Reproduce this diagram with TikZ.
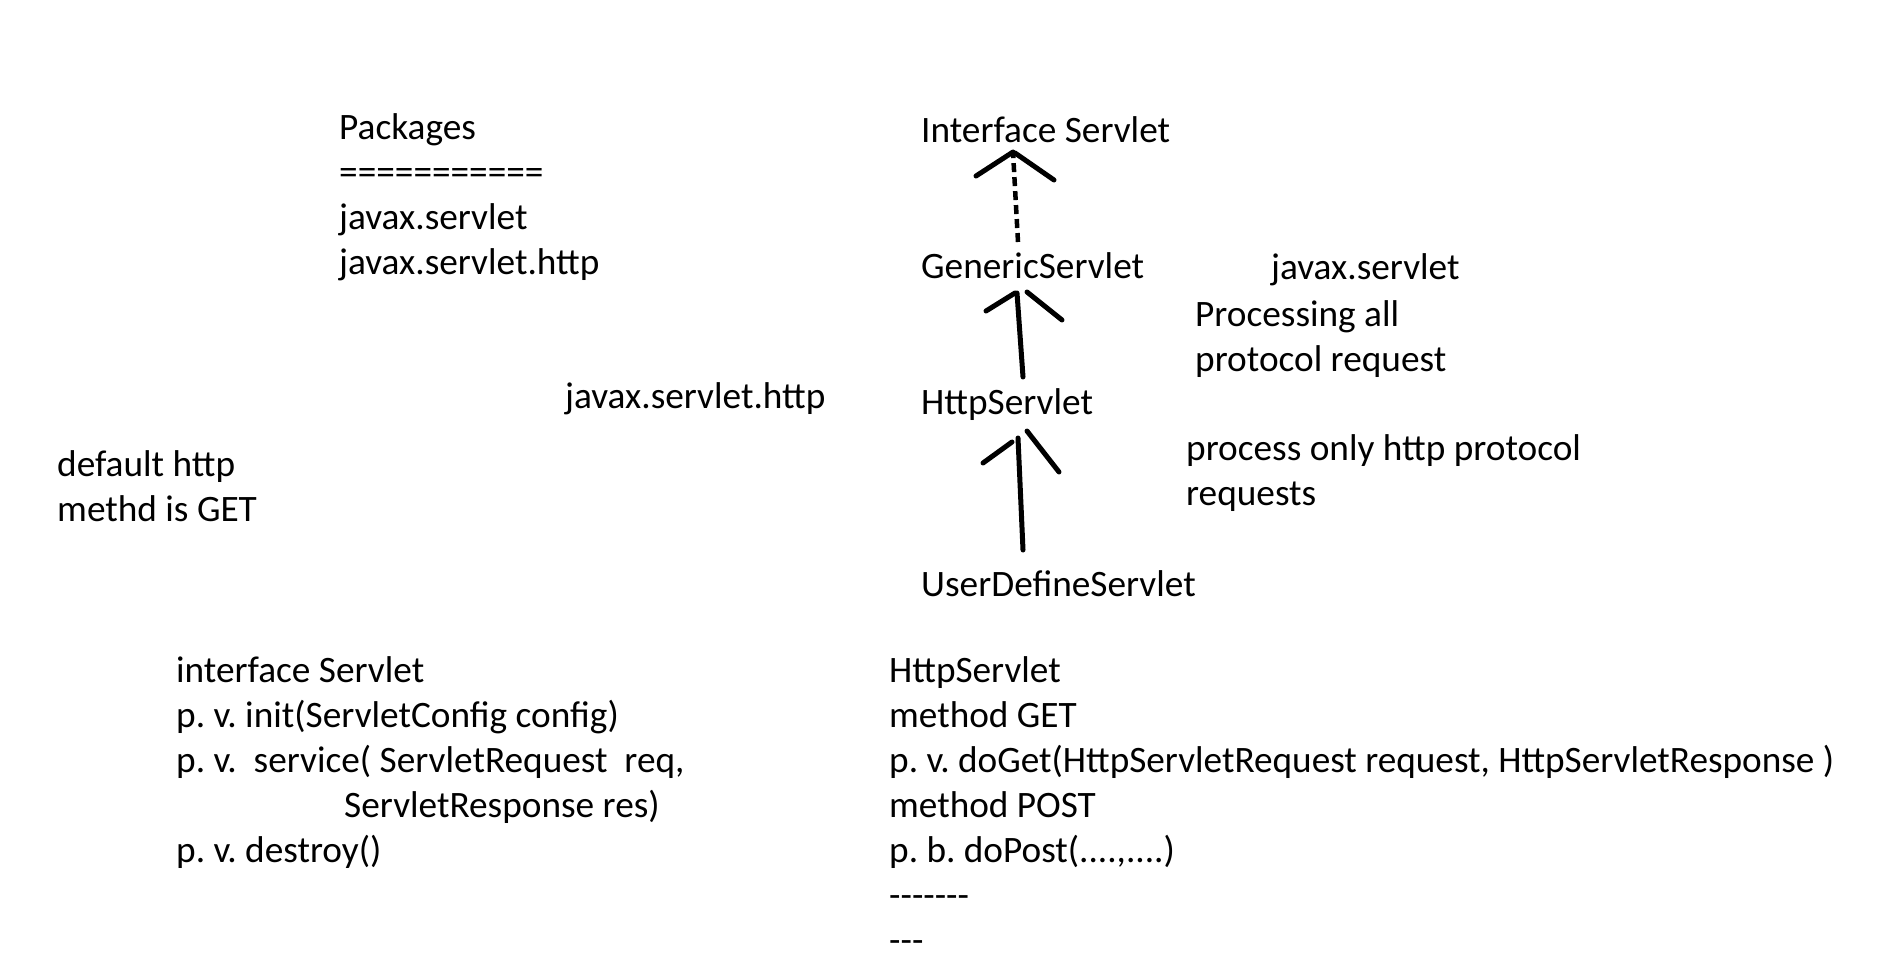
\documentclass[tikz,border=0pt]{standalone}
\usepackage{fontspec}
\setmainfont{Carlito}
\newsavebox\widebox
\newcommand\cnd[1]{\scalebox{\sx}[1]{#1}}
\newcommand\hy{-{}}
\begin{document}
\sbox\widebox{\fontsize{37.3}{45}\selectfont\frenchspacing p. v. doGet(HttpServletRequest request, HttpServletResponse )}%
\pgfmathsetmacro\sx{945/\the\wd\widebox}%
\begin{tikzpicture}[x=1pt,y=-1pt,
  txt/.style={anchor=base west, inner sep=0pt, font=\fontsize{37.3}{45}\selectfont\frenchspacing},
  arrowline/.style={line width=5pt, line cap=round},
  dashline/.style={line width=4.5pt, dash pattern=on 9pt off 5pt}]
\fill[white] (0,0) rectangle (1901,977);
\useasboundingbox (0,0) rectangle (1901,977);
% packages
\node[txt] (pk1) at (339,139) {Packages};
\node[txt] (pk2) at (339,184) {===========};
\node[txt] (pk3) at (339,229) {javax.servlet};
\node[txt] (pk4) at (339,274) {javax.servlet.http};
% hierarchy
\node[txt] (iface) at (921,142) {Interface Servlet};
\node[txt] (generic) at (921,278) {GenericServlet};
\node[txt] (http) at (921,414) {HttpServlet};
\node[txt] (user) at (921,596) {UserDefineServlet};
% notes
\node[txt] (jsv) at (1271,279) {javax.servlet};
\node[txt] (pa1) at (1195,326) {Processing all};
\node[txt] (pa2) at (1195,371) {protocol request};
\node[txt] (jsh) at (565,408) {javax.servlet.http};
\node[txt] (po1) at (1186,460) {process only http protocol};
\node[txt] (po2) at (1186,505) {requests};
\node[txt] (df1) at (57,476) {default http};
\node[txt] (df2) at (57,521) {methd is GET};
% interface Servlet block
\node[txt] (is1) at (176,682) {interface Servlet};
\node[txt] (is2) at (176,727) {p. v. init(ServletConfig config)};
\node[txt] (is3) at (176,772) {p. v.\ \ service( ServletRequest\ \ req,};
\node[txt] (is4) at (344,817) {ServletResponse res)};
\node[txt] (is5) at (176,862) {p. v. destroy()};
% HttpServlet block (condensed)
\node[txt] (hs1) at (889,682) {\cnd{HttpServlet}};
\node[txt] (hs2) at (889,727) {\cnd{method GET}};
\node[txt] (hs3) at (889,772) {\cnd{p. v. doGet(HttpServletRequest request, HttpServletResponse )}};
\node[txt] (hs4) at (889,817) {\cnd{method POST}};
\node[txt] (hs5) at (889,862) {\cnd{p. b. doPost(....,....)}};
\node[txt] (hs6) at (889,907) {\cnd{\hy\hy\hy\hy\hy\hy\hy}};
\node[txt] (hs7) at (889,952) {\cnd{\hy\hy\hy}};
% arrow coordinates
\coordinate (a1s) at (1018,242);
\coordinate (a1t) at (1013,152);
\coordinate (a1l) at (976,176);
\coordinate (a1lt) at (1013,152);
\coordinate (a1rt) at (1015,153);
\coordinate (a1r) at (1054,180);
\coordinate (a2s) at (1023,377);
\coordinate (a2t) at (1017,293);
\coordinate (a2l) at (986,311);
\coordinate (a2lt) at (1015,293);
\coordinate (a2rt) at (1027,292);
\coordinate (a2r) at (1062,320);
\coordinate (a3s) at (1023,550);
\coordinate (a3t) at (1018,438);
\coordinate (a3l) at (983,463);
\coordinate (a3lt) at (1012,442);
\coordinate (a3rt) at (1027,431);
\coordinate (a3r) at (1059,472);
% connectors
\draw[dashline] (a1s) -- (a1t);
\draw[arrowline] (a1l) -- (a1lt);
\draw[arrowline] (a1rt) -- (a1r);
\draw[arrowline] (a2s) -- (a2t);
\draw[arrowline] (a2l) -- (a2lt);
\draw[arrowline] (a2rt) -- (a2r);
\draw[arrowline] (a3s) -- (a3t);
\draw[arrowline] (a3l) -- (a3lt);
\draw[arrowline] (a3rt) -- (a3r);
\end{tikzpicture}
\end{document}
